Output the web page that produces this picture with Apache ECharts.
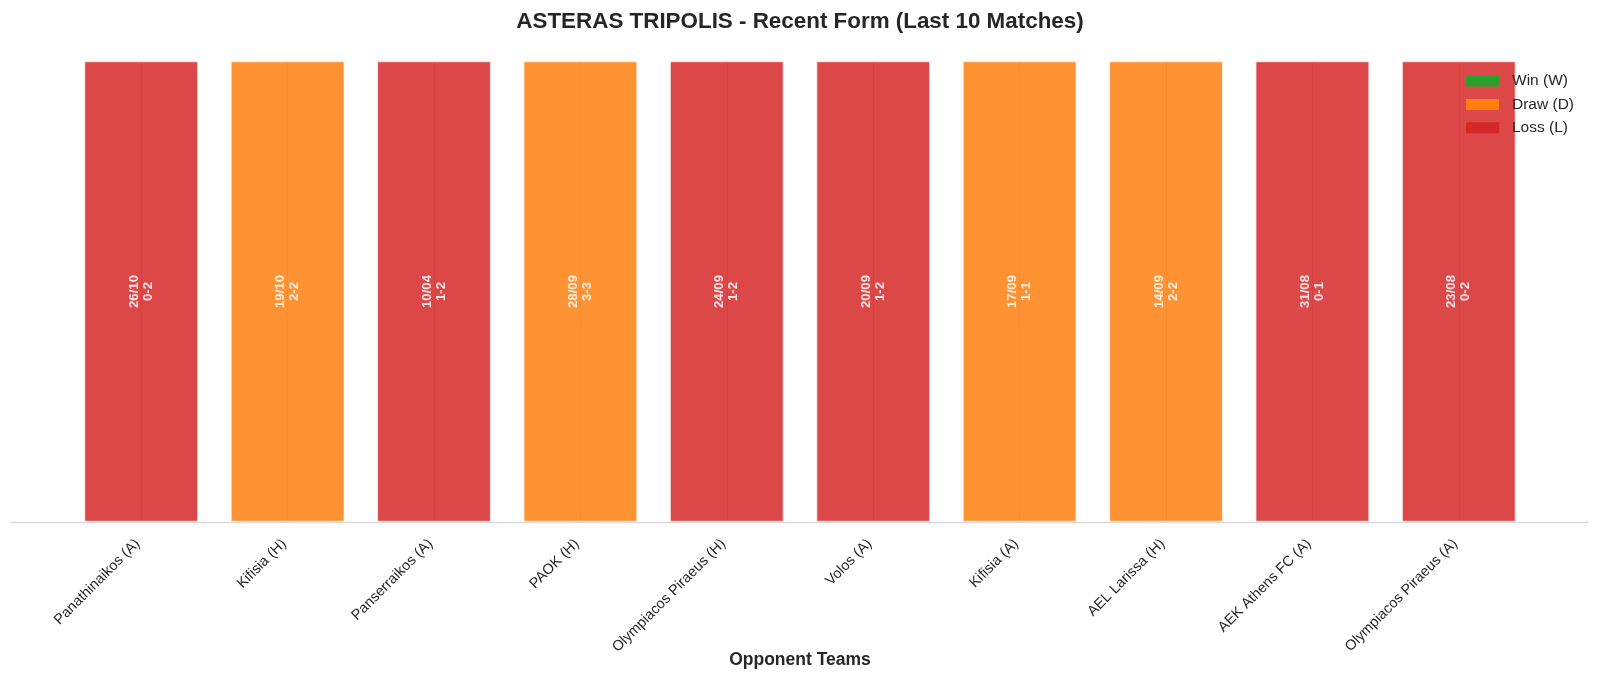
<!DOCTYPE html>
<html>
<head>
	<meta charset="utf-8">
	<title>Asteras Tripolis - Recent Form</title>
	<script src="https://cdn.jsdelivr.net/npm/echarts@6/dist/echarts.min.js"></script>
	<style type="text/css">
		html, body { margin: 0; padding: 0; background: #ffffff; overflow: hidden; }
		#chartContainer { width: 1600px; height: 679px; }
	</style>
</head>
<body>
	<div id="chartContainer"></div>
	<script type="text/javascript">
		// last 10 matches, newest first
		var opponents = ["Panathinaikos (A)", "Kifisia (H)", "Panserraikos (A)", "PAOK (H)", "Olympiacos Piraeus (H)",
			"Volos (A)", "Kifisia (A)", "AEL Larissa (H)", "AEK Athens FC (A)", "Olympiacos Piraeus (A)"];
		var dates = ["26/10", "19/10", "10/04", "28/09", "24/09", "20/09", "17/09", "14/09", "31/08", "23/08"];
		var scores = ["0-2", "2-2", "1-2", "3-3", "1-2", "1-2", "1-1", "2-2", "0-1", "0-2"];
		var results = ["L", "D", "L", "D", "L", "L", "D", "D", "L", "L"];

		var resultNames = { W: "Win (W)", D: "Draw (D)", L: "Loss (L)" };
		var resultColors = { W: "#2ca02c", D: "#ff7f0e", L: "#d62728" };
		var font = "'Liberation Sans', Arial, sans-serif";

		function buildSeries(code) {
			var data = [];
			for (var i = 0; i < results.length; i++) {
				data.push(results[i] == code ? 1 : "-");
			}
			return {
				name: resultNames[code],
				type: "bar",
				stack: "form",
				barWidth: "78%",
				data: data,
				itemStyle: {
					color: resultColors[code],
					opacity: 0.85,
					borderColor: "rgba(255,255,255,0.8)",
					borderWidth: 1.2
				},
				label: {
					show: true,
					position: "inside",
					rotate: 90,
					color: "#ffffff",
					fontWeight: "bold",
					fontSize: 13.2,
					fontFamily: font,
					lineHeight: 14,
					formatter: function (p) {
						return dates[p.dataIndex] + "\n" + scores[p.dataIndex];
					}
				}
			};
		}

		var myChart = echarts.init(document.getElementById("chartContainer"));
		var option = {
			animation: false,
			title: {
				text: "ASTERAS TRIPOLIS - Recent Form (Last 10 Matches)",
				left: "center",
				top: 11,
				padding: 0,
				textStyle: { fontSize: 22.4, fontWeight: "bold", color: "#262626", fontFamily: font }
			},
			legend: {
				data: ["Win (W)", "Draw (D)", "Loss (L)"],
				orient: "vertical",
				left: 1466,
				top: 73,
				padding: 0,
				itemWidth: 33,
				itemHeight: 11,
				itemGap: 7.4,
				icon: "rect",
				itemStyle: { borderWidth: 0, opacity: 1 },
				textStyle: { fontSize: 15.5, lineHeight: 16, color: "#262626", fontFamily: font, padding: [0, 0, 0, 8] }
			},
			grid: [
				{ left: 68, right: 68, top: 61, bottom: 157, outerBoundsMode: "none" },
				{ left: 11, right: 12, top: 61, bottom: 157, outerBoundsMode: "none" }
			],
			xAxis: [
				{
					type: "category",
					gridIndex: 0,
					data: opponents,
					axisLine: { show: false },
					axisTick: { show: false, alignWithLabel: true },
					splitLine: { show: true, alignWithLabel: true, lineStyle: { color: "#cccccc", width: 1 } },
					axisLabel: {
						rotate: 45,
						interval: 0,
						margin: 16,
						padding: [0, 5, 0, 0],
						fontSize: 14.5,
						color: "#262626",
						fontFamily: font
					},
					name: "Opponent Teams",
					nameLocation: "middle",
					nameGap: 129,
					nameMoveOverlap: false,
					nameTextStyle: { fontSize: 17.5, fontWeight: "bold", color: "#262626", fontFamily: font }
				},
				{
					type: "value",
					gridIndex: 1,
					min: 0,
					max: 1,
					axisLine: { show: true, lineStyle: { color: "#d9d9d9", width: 1.3 } },
					axisTick: { show: false },
					axisLabel: { show: false },
					splitLine: { show: false }
				}
			],
			yAxis: [
				{ type: "value", gridIndex: 0, min: 0, max: 1, show: false },
				{ type: "value", gridIndex: 1, min: 0, max: 1, show: false }
			],
			series: [buildSeries("W"), buildSeries("D"), buildSeries("L")]
		};
		myChart.setOption(option);
	</script>
</body>
</html>
